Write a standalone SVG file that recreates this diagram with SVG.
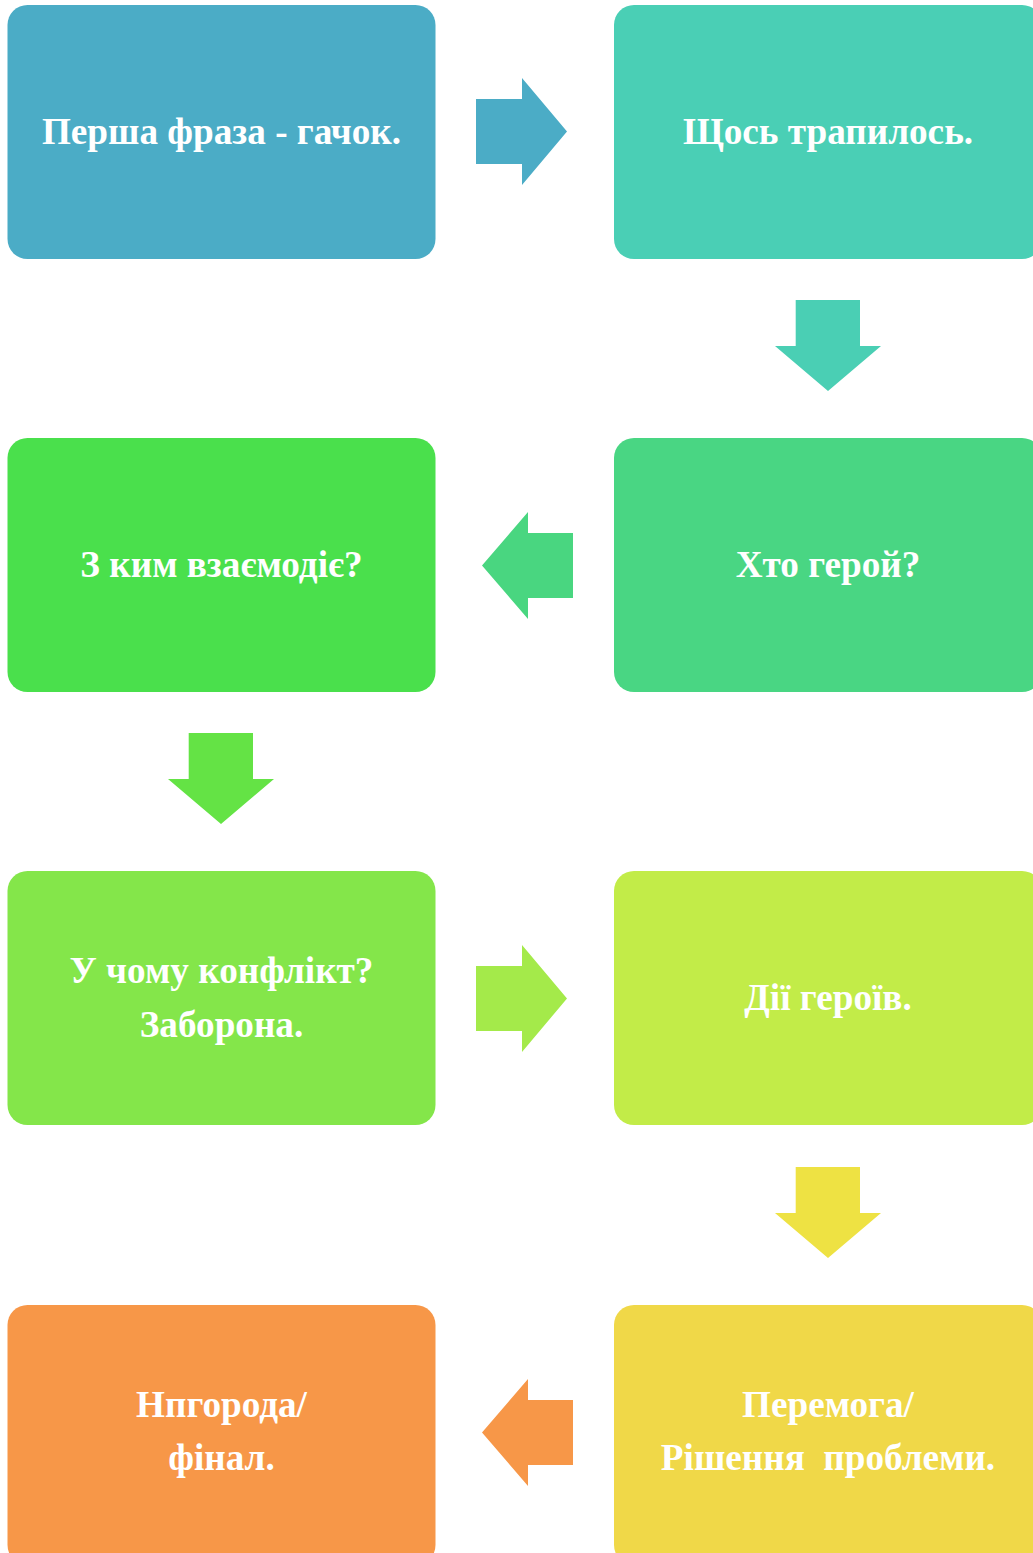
<svg xmlns="http://www.w3.org/2000/svg" width="1033" height="1553" viewBox="0 0 1033 1553">
<style>
.t{font-family:"Liberation Serif","Times New Roman",serif;font-weight:bold;font-size:37.2px;fill:#ffffff;text-anchor:middle;white-space:pre}
</style>
<defs>
<path id="arR" d="M0 21 H46 V0 L91 53.5 L46 107 V86 H0 Z"/>
<path id="arL" d="M91 21 H46 V0 L0 53.5 L46 107 V86 H91 Z"/>
<path id="arD" d="M20.7 0 H85 V46 H106 L53 91 L0 46 H20.7 Z"/>
</defs>
<rect width="1033" height="1553" fill="#ffffff"/>
<g id="connectors">
<use href="#arR" x="476" y="78" fill="#4BACC6"/>
<use href="#arD" x="775" y="300" fill="#4ACFB4"/>
<use href="#arL" x="482" y="512" fill="#49D680"/>
<use href="#arD" x="168" y="733" fill="#64E345"/>
<use href="#arR" x="476" y="945" fill="#A4EA4A"/>
<use href="#arD" x="775" y="1167" fill="#EEE243"/>
<use href="#arL" x="482" y="1379" fill="#F79748"/>
</g>
<g id="n1"><rect x="7.5" y="5" width="428" height="254" rx="20" fill="#4BACC6"/><text class="t" x="221.5" y="144">Перша фраза - гачок.</text></g>
<g id="n2"><rect x="614" y="5" width="428" height="254" rx="20" fill="#4ACFB5"/><text class="t" x="828" y="144">Щось трапилось.</text></g>
<g id="n3"><rect x="614" y="438" width="428" height="254" rx="20" fill="#49D683"/><text class="t" x="828" y="577">Хто герой?</text></g>
<g id="n4"><rect x="7.5" y="438" width="428" height="254" rx="20" fill="#4AE04C"/><text class="t" x="221.5" y="577">З ким взаємодіє?</text></g>
<g id="n5"><rect x="7.5" y="871" width="428" height="254" rx="20" fill="#84E64A"/><text class="t" x="221.5" y="983">У чому конфлікт?</text><text class="t" x="221.5" y="1037">Заборона.</text></g>
<g id="n6"><rect x="614" y="871" width="428" height="254" rx="20" fill="#C2EC48"/><text class="t" x="828" y="1010">Дії героїв.</text></g>
<g id="n7"><rect x="614" y="1305" width="428" height="260" rx="20" fill="#F0D848"/><text class="t" x="828" y="1417">Перемога/</text><text class="t" x="828" y="1470">Рішення  проблеми.</text></g>
<g id="n8"><rect x="7.5" y="1305" width="428" height="260" rx="20" fill="#F79748"/><text class="t" x="221.5" y="1417">Нпгорода/</text><text class="t" x="221.5" y="1470">фінал.</text></g>
</svg>
